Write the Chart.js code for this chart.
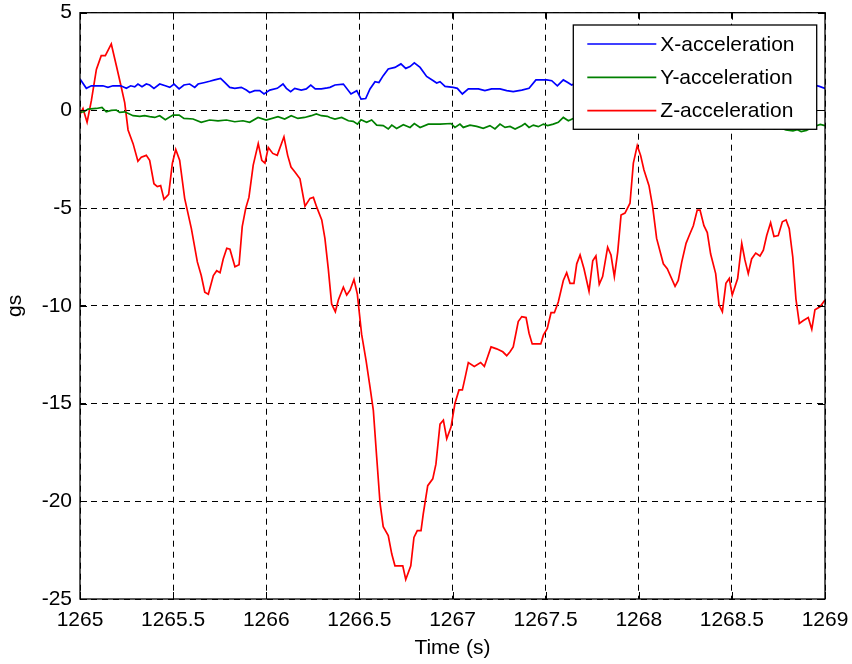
<!DOCTYPE html>
<html>
<head>
<meta charset="utf-8">
<script src="https://cdn.jsdelivr.net/npm/chart.js@4/dist/chart.umd.min.js"></script>
<style>
  html, body { margin: 0; padding: 0; background: #ffffff; }
  #wrap { width: 852px; height: 664px; }
</style>
</head>
<body>
<div id="wrap"><canvas id="c" width="852" height="664"></canvas></div>
<script>
// Accelerometer samples, time in seconds
const xAccTime = [
  1265.000, 1265.034, 1265.061, 1265.123, 1265.150, 1265.177, 1265.219, 1265.249, 1265.272, 1265.294,
  1265.311, 1265.333, 1265.356, 1265.374, 1265.397, 1265.428, 1265.458, 1265.482, 1265.505, 1265.532,
  1265.558, 1265.589, 1265.616, 1265.634, 1265.670, 1265.696, 1265.723, 1265.755, 1265.777, 1265.804,
  1265.831, 1265.866, 1265.893, 1265.911, 1265.938, 1265.965, 1265.988, 1266.019, 1266.059, 1266.090,
  1266.108, 1266.131, 1266.153, 1266.188, 1266.215, 1266.239, 1266.263, 1266.296, 1266.328, 1266.342,
  1266.369, 1266.414, 1266.455, 1266.486, 1266.509, 1266.534, 1266.557, 1266.584, 1266.605, 1266.628,
  1266.655, 1266.691, 1266.723, 1266.749, 1266.772, 1266.795, 1266.826, 1266.861, 1266.897, 1266.915,
  1266.933, 1266.960, 1267.004, 1267.026, 1267.053, 1267.085, 1267.139, 1267.174, 1267.210, 1267.255,
  1267.291, 1267.326, 1267.372, 1267.411, 1267.448, 1267.506, 1267.533, 1267.563, 1267.595, 1267.619,
  1267.640, 1267.680, 1267.720, 1267.760, 1267.800, 1267.840, 1267.880, 1267.920, 1267.960, 1268.000,
  1268.040, 1268.080, 1268.120, 1268.160, 1268.200, 1268.240, 1268.280, 1268.320, 1268.360, 1268.400,
  1268.440, 1268.480, 1268.520, 1268.560, 1268.600, 1268.640, 1268.680, 1268.720, 1268.760, 1268.800,
  1268.840, 1268.880, 1268.920, 1268.950, 1268.970, 1269.000
];
const xAccValues = [
  1.61, 1.13, 1.26, 1.26, 1.18, 1.26, 1.26, 1.13, 1.26, 1.21,
  1.35, 1.21, 1.35, 1.30, 1.13, 1.35, 1.26, 1.18, 1.35, 1.10,
  1.30, 1.35, 1.18, 1.35, 1.43, 1.49, 1.56, 1.64, 1.43, 1.18,
  1.13, 1.18, 1.04, 0.92, 1.01, 1.01, 0.84, 1.04, 1.13, 1.35,
  1.13, 0.96, 1.13, 1.04, 1.10, 1.30, 1.10, 1.10, 1.15, 1.18,
  1.30, 1.35, 0.84, 1.01, 0.58, 0.61, 1.10, 1.47, 1.43, 1.78,
  2.12, 2.20, 2.38, 2.15, 2.24, 2.43, 2.20, 1.74, 1.52, 1.40,
  1.47, 1.23, 1.18, 1.13, 0.84, 1.10, 1.10, 1.01, 1.10, 1.10,
  1.01, 0.96, 1.04, 1.13, 1.56, 1.56, 1.52, 1.26, 1.56, 1.43,
  1.30, 1.48, 1.35, 1.42, 1.30, 1.38, 1.25, 1.33, 1.40, 1.28,
  1.36, 1.22, 1.30, 1.38, 1.26, 1.34, 1.20, 1.30, 1.36, 1.24,
  1.32, 1.40, 1.28, 1.35, 1.22, 1.30, 1.38, 1.25, 1.33, 1.20,
  1.30, 1.36, 1.24, 1.28, 1.23, 1.13
];

const yAccTime = [
  1265.000, 1265.021, 1265.043, 1265.088, 1265.118, 1265.141, 1265.168, 1265.195, 1265.213, 1265.240,
  1265.285, 1265.321, 1265.347, 1265.374, 1265.401, 1265.428, 1265.458, 1265.499, 1265.532, 1265.558,
  1265.607, 1265.651, 1265.696, 1265.741, 1265.786, 1265.831, 1265.875, 1265.911, 1265.956, 1266.000,
  1266.063, 1266.099, 1266.134, 1266.170, 1266.206, 1266.242, 1266.269, 1266.296, 1266.328, 1266.342,
  1266.369, 1266.405, 1266.441, 1266.467, 1266.490, 1266.509, 1266.539, 1266.566, 1266.593, 1266.628,
  1266.655, 1266.674, 1266.700, 1266.736, 1266.772, 1266.795, 1266.826, 1266.870, 1266.933, 1266.992,
  1267.013, 1267.040, 1267.058, 1267.094, 1267.130, 1267.165, 1267.201, 1267.228, 1267.255, 1267.282,
  1267.309, 1267.336, 1267.372, 1267.389, 1267.411, 1267.434, 1267.461, 1267.488, 1267.511, 1267.541,
  1267.568, 1267.595, 1267.622, 1267.649, 1267.680, 1267.710, 1267.740, 1267.770, 1267.800, 1267.830,
  1267.860, 1267.890, 1267.920, 1267.950, 1267.980, 1268.010, 1268.040, 1268.070, 1268.100, 1268.130,
  1268.160, 1268.190, 1268.220, 1268.250, 1268.280, 1268.310, 1268.340, 1268.370, 1268.400, 1268.430,
  1268.460, 1268.490, 1268.520, 1268.550, 1268.580, 1268.610, 1268.640, 1268.670, 1268.700, 1268.730,
  1268.760, 1268.790, 1268.828, 1268.850, 1268.872, 1268.900, 1268.925, 1268.950, 1268.975, 1269.000
];
const yAccValues = [
  -0.10, -0.07, 0.07, 0.10, 0.15, -0.07, 0.00, 0.02, -0.10, -0.07,
  -0.27, -0.30, -0.27, -0.32, -0.36, -0.27, -0.48, -0.24, -0.24, -0.41,
  -0.44, -0.61, -0.49, -0.53, -0.49, -0.58, -0.53, -0.61, -0.36, -0.49,
  -0.32, -0.44, -0.27, -0.41, -0.36, -0.27, -0.18, -0.27, -0.30, -0.36,
  -0.44, -0.36, -0.53, -0.56, -0.70, -0.48, -0.61, -0.49, -0.75, -0.78,
  -0.95, -0.75, -0.92, -0.73, -0.87, -0.67, -0.87, -0.70, -0.70, -0.67,
  -0.87, -0.70, -0.87, -0.75, -0.82, -0.92, -0.78, -0.95, -0.70, -0.87,
  -0.82, -0.95, -0.78, -0.67, -0.87, -0.75, -0.83, -0.70, -0.78, -0.70,
  -0.61, -0.36, -0.53, -0.41, -0.62, -0.74, -0.66, -0.80, -0.70, -0.78,
  -0.68, -0.82, -0.72, -0.85, -0.74, -0.80, -0.70, -0.86, -0.76, -0.84,
  -0.72, -0.88, -0.78, -0.86, -0.74, -0.90, -0.80, -0.88, -0.76, -0.92,
  -0.82, -0.90, -0.80, -0.94, -0.84, -0.92, -0.82, -0.96, -0.86, -0.94,
  -0.88, -1.00, -1.05, -0.98, -1.08, -1.02, -0.90, -0.80, -0.72, -0.78
];

const zAccTime = [
  1265.000, 1265.016, 1265.038, 1265.061, 1265.088, 1265.114, 1265.136, 1265.168, 1265.195, 1265.219,
  1265.240, 1265.258, 1265.285, 1265.311, 1265.329, 1265.356, 1265.374, 1265.397, 1265.415, 1265.433,
  1265.451, 1265.476, 1265.496, 1265.514, 1265.535, 1265.562, 1265.598, 1265.630, 1265.651, 1265.670,
  1265.689, 1265.716, 1265.734, 1265.752, 1265.769, 1265.788, 1265.805, 1265.832, 1265.854, 1265.871,
  1265.890, 1265.907, 1265.930, 1265.957, 1265.976, 1265.993, 1266.011, 1266.035, 1266.059, 1266.095,
  1266.115, 1266.133, 1266.154, 1266.181, 1266.208, 1266.235, 1266.253, 1266.271, 1266.298, 1266.315,
  1266.333, 1266.351, 1266.371, 1266.387, 1266.414, 1266.432, 1266.450, 1266.471, 1266.489, 1266.512,
  1266.536, 1266.557, 1266.575, 1266.593, 1266.611, 1266.628, 1266.655, 1266.674, 1266.691, 1266.733,
  1266.749, 1266.776, 1266.793, 1266.811, 1266.831, 1266.843, 1266.867, 1266.894, 1266.911, 1266.933,
  1266.951, 1266.969, 1266.992, 1267.013, 1267.035, 1267.053, 1267.067, 1267.085, 1267.117, 1267.151,
  1267.171, 1267.207, 1267.237, 1267.270, 1267.291, 1267.309, 1267.326, 1267.353, 1267.372, 1267.395,
  1267.411, 1267.428, 1267.474, 1267.488, 1267.509, 1267.529, 1267.547, 1267.568, 1267.595, 1267.613,
  1267.631, 1267.652, 1267.667, 1267.685, 1267.706, 1267.733, 1267.753, 1267.770, 1267.788, 1267.806,
  1267.833, 1267.851, 1267.869, 1267.887, 1267.905, 1267.926, 1267.953, 1267.971, 1267.992, 1268.010,
  1268.028, 1268.055, 1268.075, 1268.096, 1268.132, 1268.153, 1268.195, 1268.212, 1268.231, 1268.254,
  1268.271, 1268.293, 1268.314, 1268.329, 1268.350, 1268.368, 1268.386, 1268.413, 1268.431, 1268.449,
  1268.468, 1268.486, 1268.502, 1268.531, 1268.553, 1268.570, 1268.588, 1268.606, 1268.628, 1268.651,
  1268.669, 1268.687, 1268.708, 1268.726, 1268.749, 1268.771, 1268.791, 1268.808, 1268.827, 1268.844,
  1268.862, 1268.884, 1268.910, 1268.929, 1268.946, 1268.973, 1269.000
];
const zAccValues = [
  -0.20, 0.10, -0.60, 0.50, 2.10, 2.80, 2.80, 3.40, 2.30, 1.30,
  0.40, -1.00, -1.70, -2.60, -2.40, -2.30, -2.55, -3.75, -3.90, -3.85,
  -4.55, -4.30, -2.70, -2.00, -2.55, -4.50, -6.05, -7.75, -8.45, -9.30,
  -9.40, -8.45, -8.20, -8.30, -7.60, -7.05, -7.10, -8.00, -7.90, -5.95,
  -5.00, -4.45, -2.80, -1.70, -2.55, -2.70, -1.90, -2.20, -2.30, -1.35,
  -2.30, -2.90, -3.15, -3.50, -4.90, -4.50, -4.45, -4.95, -5.60, -6.55,
  -8.10, -9.90, -10.30, -9.70, -9.05, -9.45, -9.20, -8.65, -9.40, -11.45,
  -12.80, -14.15, -15.35, -17.75, -20.10, -21.30, -21.75, -22.70, -23.30, -23.30,
  -24.00, -23.30, -21.85, -21.50, -21.50, -20.65, -19.20, -18.85, -18.10, -16.05,
  -15.85, -16.80, -16.20, -15.00, -14.30, -14.30, -13.70, -12.90, -13.10, -12.90,
  -13.10, -12.10, -12.20, -12.35, -12.55, -12.35, -12.10, -10.80, -10.55, -10.60,
  -11.40, -11.95, -11.95, -11.50, -11.15, -10.35, -10.35, -9.80, -8.70, -8.30,
  -8.85, -8.85, -7.85, -7.40, -8.10, -9.25, -7.70, -7.45, -8.90, -8.50,
  -7.00, -7.40, -8.50, -7.25, -5.35, -5.25, -4.75, -2.70, -1.80, -2.30,
  -3.05, -3.85, -4.95, -6.55, -7.85, -8.10, -9.00, -8.70, -7.75, -6.80,
  -6.40, -5.90, -5.10, -5.10, -5.90, -6.25, -7.35, -8.35, -9.95, -10.30,
  -8.85, -8.60, -9.45, -8.60, -6.80, -7.65, -8.35, -7.60, -7.30, -7.45,
  -7.15, -6.40, -5.75, -6.45, -6.40, -5.70, -5.60, -6.05, -7.50, -9.65,
  -10.90, -10.75, -10.60, -11.20, -10.20, -10.05, -9.70
];

const seriesLabels = ['X-acceleration', 'Y-acceleration', 'Z-acceleration'];
const seriesColors = ['#0000ff', '#008000', '#ff0000'];

const timeTicks = [1265, 1265.5, 1266, 1266.5, 1267, 1267.5, 1268, 1268.5, 1269];
const gsTicks = [-25, -20, -15, -10, -5, 0, 5];

const FONT_FAMILY = "'Liberation Sans', Arial, Helvetica, sans-serif";

function toPoints(times, values) {
  return times.map((t, i) => ({ x: t, y: values[i] }));
}

// Solid axes box with short inward tick marks on all four sides
const axesBox = {
  id: 'axesBox',
  afterDatasetsDraw(chart) {
    const { ctx, chartArea: a, scales } = chart;
    ctx.save();
    ctx.strokeStyle = '#000000';
    ctx.lineWidth = 1.3;
    ctx.setLineDash([]);
    ctx.strokeRect(a.left, a.top, a.right - a.left, a.bottom - a.top);
    const len = 7;
    ctx.lineWidth = 1;
    ctx.beginPath();
    scales.x.ticks.forEach(t => {
      const px = Math.round(scales.x.getPixelForValue(t.value)) + 0.5;
      ctx.moveTo(px, a.bottom); ctx.lineTo(px, a.bottom - len);
      ctx.moveTo(px, a.top); ctx.lineTo(px, a.top + len);
    });
    scales.y.ticks.forEach(t => {
      const py = Math.round(scales.y.getPixelForValue(t.value)) + 0.5;
      ctx.moveTo(a.left, py); ctx.lineTo(a.left + len, py);
      ctx.moveTo(a.right, py); ctx.lineTo(a.right - len, py);
    });
    ctx.stroke();
    ctx.restore();
  }
};

// Boxed legend in the upper-right corner of the plot area
const boxedLegend = {
  id: 'boxedLegend',
  afterDraw(chart) {
    const { ctx, chartArea: a } = chart;
    const right = a.right - 8.3;
    const left = right - 243.4;
    const top = a.top + 12.3;
    const height = 104.3;
    ctx.save();
    ctx.fillStyle = '#ffffff';
    ctx.fillRect(left, top, right - left, height);
    ctx.strokeStyle = '#000000';
    ctx.lineWidth = 1.3;
    ctx.setLineDash([]);
    ctx.strokeRect(left, top, right - left, height);
    ctx.font = '21px ' + FONT_FAMILY;
    ctx.textBaseline = 'middle';
    ctx.textAlign = 'left';
    chart.data.datasets.forEach((ds, i) => {
      const y = top + 19 + i * 33.3;
      ctx.strokeStyle = ds.borderColor;
      ctx.lineWidth = 1.7;
      ctx.beginPath();
      ctx.moveTo(left + 14, y);
      ctx.lineTo(left + 83, y);
      ctx.stroke();
      ctx.fillStyle = '#000000';
      ctx.fillText(ds.label, left + 87, y + 1);
    });
    ctx.restore();
  }
};

const tickFont = { family: FONT_FAMILY, size: 21 };

new Chart(document.getElementById('c'), {
  type: 'line',
  data: {
    datasets: [
      { label: seriesLabels[0], data: toPoints(xAccTime, xAccValues), borderColor: seriesColors[0] },
      { label: seriesLabels[1], data: toPoints(yAccTime, yAccValues), borderColor: seriesColors[1] },
      { label: seriesLabels[2], data: toPoints(zAccTime, zAccValues), borderColor: seriesColors[2] }
    ]
  },
  options: {
    responsive: false,
    devicePixelRatio: 1,
    animation: false,
    events: [],
    layout: { padding: { left: 0, top: 12.7, right: 27, bottom: 0 } },
    elements: {
      point: { radius: 0 },
      line: { borderWidth: 1.7, tension: 0, fill: false }
    },
    plugins: {
      legend: { display: false },
      tooltip: { enabled: false }
    },
    scales: {
      x: {
        type: 'linear',
        min: timeTicks[0],
        max: timeTicks[timeTicks.length - 1],
        afterBuildTicks: (scale) => { scale.ticks = timeTicks.map(v => ({ value: v })); },
        afterFit: (scale) => {
          scale.height = 65;
          scale.paddingLeft = 0;
          scale.paddingRight = 0;
        },
        ticks: {
          color: '#000000',
          font: tickFont,
          padding: 9,
          maxRotation: 0,
          autoSkip: false,
          callback: (v) => String(v)
        },
        grid: { color: '#000000', lineWidth: 1, drawTicks: false },
        border: { display: false, dash: [6, 5] },
        title: {
          display: true,
          text: 'Time (s)',
          color: '#000000',
          font: tickFont,
          padding: { top: 0, bottom: 3 }
        }
      },
      y: {
        type: 'linear',
        min: gsTicks[0],
        max: gsTicks[gsTicks.length - 1],
        afterBuildTicks: (scale) => { scale.ticks = gsTicks.map(v => ({ value: v })); },
        afterFit: (scale) => {
          scale.width = 80;
          scale.paddingTop = 0;
          scale.paddingBottom = 0;
        },
        ticks: {
          color: '#000000',
          font: tickFont,
          padding: 8,
          autoSkip: false,
          callback: (v) => String(v)
        },
        grid: { color: '#000000', lineWidth: 1, drawTicks: false },
        border: { display: false, dash: [6, 5] },
        title: {
          display: true,
          text: 'gs',
          color: '#000000',
          font: tickFont,
          padding: { top: 3, bottom: 0 }
        }
      }
    }
  },
  plugins: [axesBox, boxedLegend]
});
</script>
</body>
</html>
